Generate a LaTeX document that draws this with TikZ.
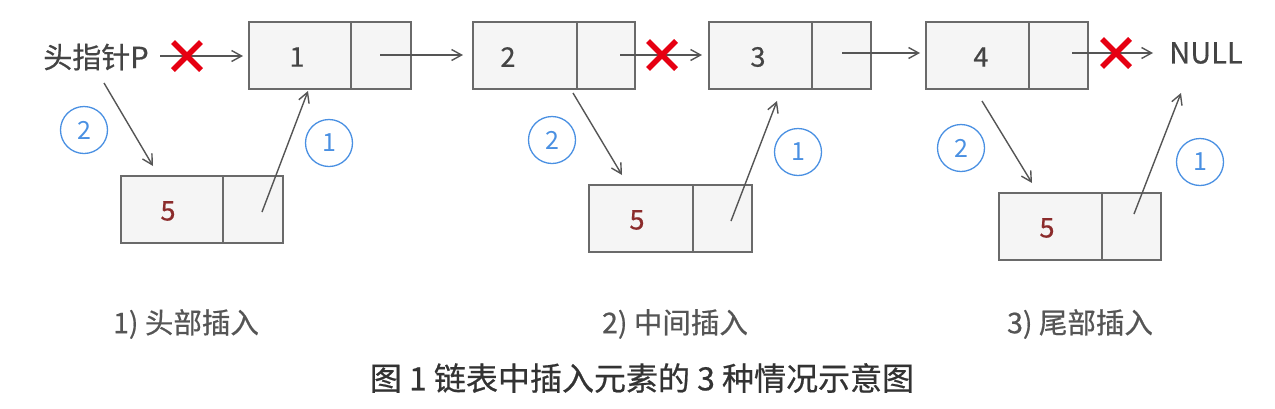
\documentclass[tikz,border=0pt]{standalone}
\usepackage{fontspec}
\setmainfont{Noto Sans CJK SC}
\newfontfamily\medfont[FakeBold=0.6]{Noto Sans CJK SC}
\usetikzlibrary{arrows.meta}
\definecolor{boxfill}{HTML}{F5F5F5}
\definecolor{boxline}{HTML}{6A6A6A}
\definecolor{arr}{HTML}{555555}
\definecolor{txt}{HTML}{444444}
\definecolor{five}{HTML}{8B2B2B}
\definecolor{circ}{HTML}{4A90E2}
\definecolor{xred}{HTML}{E60012}
\definecolor{lbl}{HTML}{555555}
\definecolor{cap}{HTML}{333333}
\tikzset{
  databox/.style={draw=boxline, fill=boxfill, line width=1.8pt, minimum height=67pt, inner sep=0pt, anchor=center},
  num/.style={font=\medfont\fontsize{27}{30}\selectfont, text=txt, inner sep=0pt},
  fivetxt/.style={font=\medfont\fontsize{27}{30}\selectfont, text=five, inner sep=0pt},
  link/.style={draw=arr, line width=1.4pt, -{Straight Barb[length=10pt,width=11pt,line width=1.4pt]}},
  stepcirc/.style={circle, draw=circ, line width=1.3pt, minimum size=47pt, inner sep=0pt, text=circ, font=\fontsize{25}{28}\selectfont},
  xmark/.style={draw=xred, line width=5.5pt},
  lbltxt/.style={font=\medfont\fontsize{28.5}{30}\selectfont, text=lbl, inner sep=0pt},
}
\begin{document}
\begin{tikzpicture}[x=1pt,y=-1pt]
\useasboundingbox (0,0) rectangle (1275,408);
% top boxes
\node[databox, minimum width=102pt] (d1) at (300,55.5) {};
\node[databox, minimum width=60pt] (p1) at (381,55.5) {};
\node[databox, minimum width=104pt] (d2) at (525,55.5) {};
\node[databox, minimum width=58pt] (p2) at (606,55.5) {};
\node[databox, minimum width=103pt] (d3) at (760.5,55.5) {};
\node[databox, minimum width=59pt] (p3) at (841.5,55.5) {};
\node[databox, minimum width=103pt] (d4) at (977.5,55.5) {};
\node[databox, minimum width=59pt] (p4) at (1058.5,55.5) {};
\node[num] (t1) at (297,57) {1};
\node[num] (t2) at (508,57) {2};
\node[num] (t3) at (758,57) {3};
\node[num] (t4) at (981,57) {4};
% new boxes
\node[databox, minimum width=102pt] (na) at (172,209.5) {};
\node[databox, minimum width=60pt] (pa) at (253,209.5) {};
\node[databox, minimum width=104pt] (nb) at (641,218.5) {};
\node[databox, minimum width=59pt] (pb) at (722.5,218.5) {};
\node[databox, minimum width=103pt] (nc) at (1050.5,226.5) {};
\node[databox, minimum width=59pt] (pc) at (1131.5,226.5) {};
\node[fivetxt] (fa) at (168,211) {5};
\node[fivetxt] (fb) at (637,220) {5};
\node[fivetxt] (fc) at (1047,228) {5};
% texts
\node[lbltxt, text=txt, font=\medfont\fontsize{29}{30}\selectfont] (head) at (96,57) {头指针P};
\node[num, font=\medfont\fontsize{29}{30}\selectfont] (null) at (1206,53) {NULL};
% coordinates for links
\coordinate (h0) at (160,56);
\coordinate (h1) at (243,56);
\coordinate (a0) at (380,55);
\coordinate (a1) at (463,55);
\coordinate (b0) at (620,55);
\coordinate (b1) at (702,55);
\coordinate (c0) at (842,53);
\coordinate (c1) at (920,53);
\coordinate (e0) at (1072,53);
\coordinate (e1) at (1153,53);
\draw[link] (h0) -- (h1);
\draw[link] (a0) -- (a1);
\draw[link] (b0) -- (b1);
\draw[link] (c0) -- (c1);
\draw[link] (e0) -- (e1);
% diagonal links
\coordinate (s1) at (104,83);  \coordinate (s2) at (153,166);
\coordinate (u1) at (262,212); \coordinate (u2) at (308,91);
\coordinate (s3) at (573,93);  \coordinate (s4) at (622,175);
\coordinate (u3) at (731,221); \coordinate (u4) at (777,101);
\coordinate (s5) at (982,101); \coordinate (s6) at (1032,183);
\coordinate (u5) at (1134,214);\coordinate (u6) at (1181,93);
\draw[link] (s1) -- (s2);
\draw[link] (u1) -- (u2);
\draw[link] (s3) -- (s4);
\draw[link] (u3) -- (u4);
\draw[link] (s5) -- (s6);
\draw[link] (u5) -- (u6);
% circled numbers
\node[stepcirc] (c2a) at (84,130) {2};
\node[stepcirc] (c1a) at (329,143) {1};
\node[stepcirc] (c2b) at (552,140) {2};
\node[stepcirc] (c1b) at (798,152) {1};
\node[stepcirc] (c2c) at (961,148) {2};
\node[stepcirc] (c1c) at (1200,162) {1};
% red crosses
\foreach \cx/\cy in {187/56, 662/55, 1116/53} {
  \draw[xmark] (\cx-14,\cy-14) -- (\cx+14,\cy+14);
  \draw[xmark] (\cx-14,\cy+14) -- (\cx+14,\cy-14);
}
% labels
\node[lbltxt] (l1) at (186,324) {1) 头部插入};
\node[lbltxt] (l2) at (675,324) {2) 中间插入};
\node[lbltxt] (l3) at (1080,324) {3) 尾部插入};
\node[lbltxt, text=cap, font=\medfont\fontsize{32}{34}\selectfont] (capt) at (642,378) {图 1 链表中插入元素的 3 种情况示意图};
\end{tikzpicture}
\end{document}
